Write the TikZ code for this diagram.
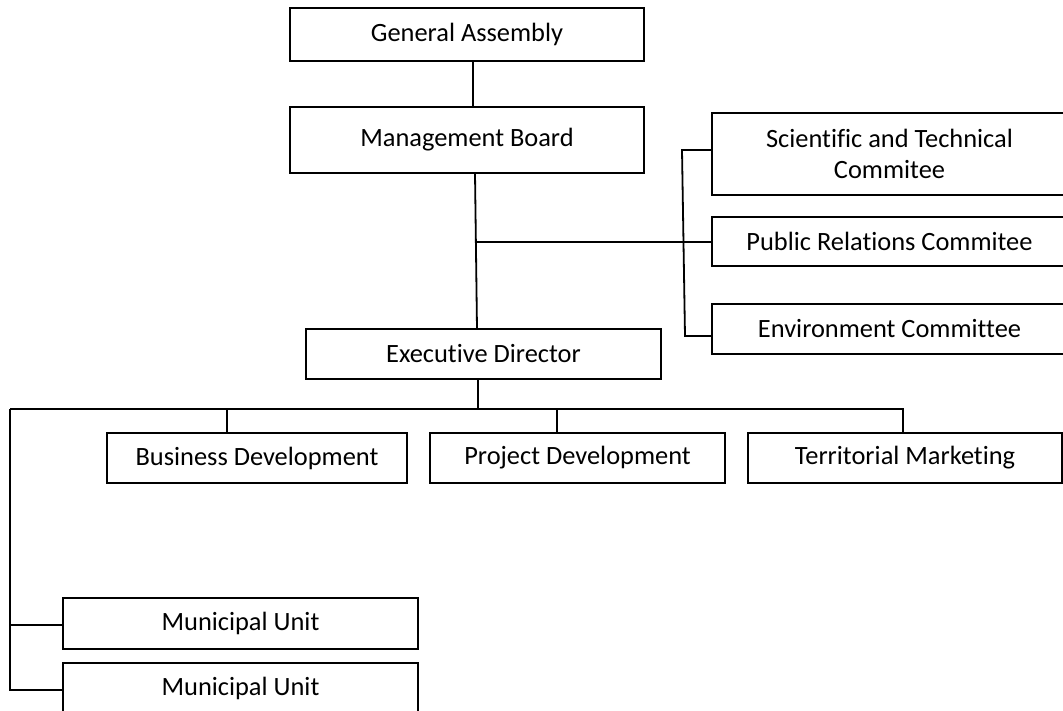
\documentclass[tikz,border=0pt]{standalone}
\usepackage{fontspec}
\setmainfont{Carlito}[Ligatures={NoCommon}]
\begin{document}
\begin{tikzpicture}[x=1pt,y=-1pt,
  box/.style={draw=black, line width=1.8pt, rectangle, inner sep=0pt, outer sep=0pt,
    font=\fontsize{26.4}{31.5}\selectfont, align=center},
  conn/.style={draw=black, line width=1.8pt}]
\useasboundingbox (0,0) rectangle (1063,710);
\clip (0,0) rectangle (1063,710);

% governance boxes
\node[box, minimum width=354pt, minimum height=53pt] (ga) at (467,34.5) {General Assembly};
\node[box, minimum width=354pt, minimum height=66pt] (mb) at (467,140) {Management Board};

% committees
\node[box, minimum width=355pt, minimum height=82pt] (sci) at (889.5,154) {Scientific and Technical\\Commitee};
\node[box, minimum width=355pt, minimum height=49pt] (pr) at (889.5,241.5) {Public Relations Commitee};
\node[box, minimum width=355pt, minimum height=50pt] (env) at (889.5,329) {Environment Committee};

% executive level
\node[box, minimum width=355pt, minimum height=50pt] (ed) at (483.5,354) {Executive Director};
\node[box, minimum width=300pt, minimum height=50pt] (bd) at (257,458) {Business Development};
\node[box, minimum width=295pt, minimum height=50pt] (pd) at (577.5,458) {Project Development};
\node[box, minimum width=314pt, minimum height=50pt] (tm) at (905,458) {Territorial Marketing};

% municipal units
\node[box, minimum width=355pt, minimum height=51pt] (mu1) at (240.5,623.5) {Municipal Unit};
\node[box, minimum width=355pt, minimum height=51pt] (mu2) at (240.5,688.5) {Municipal Unit};

% junction points
\coordinate (gaj) at (473,0);
\coordinate (mbj) at (475,0);
\coordinate (edt) at (477,0);
\coordinate (spine) at (476,242);
\coordinate (b1) at (682,150);
\coordinate (b2) at (685,336);
\coordinate (edj) at (478,409);
\coordinate (busL) at (10,409);
\coordinate (busR) at (903,409);
\coordinate (bdj) at (227,409);
\coordinate (pdj) at (557,409);
\coordinate (muj1) at (10,625);
\coordinate (muj2) at (10,690);

% connectors
\draw[conn] (ga.south -| gaj) -- (mb.north -| gaj);
\draw[conn] (mb.south -| mbj) -- (ed.north -| edt);
\draw[conn] (spine) -- (pr.west |- spine);
\draw[conn] (sci.west |- b1) -- (b1) -- (b2) -- (env.west |- b2);
\draw[conn] (ed.south -| edj) -- (edj);
\draw[conn] (busL) -- (busR) -- (tm.north -| busR);
\draw[conn] (bdj) -- (bd.north -| bdj);
\draw[conn] (pdj) -- (pd.north -| pdj);
\draw[conn] (busL) -- (muj2) -- (mu2.west |- muj2);
\draw[conn] (muj1) -- (mu1.west |- muj1);
\end{tikzpicture}
\end{document}
